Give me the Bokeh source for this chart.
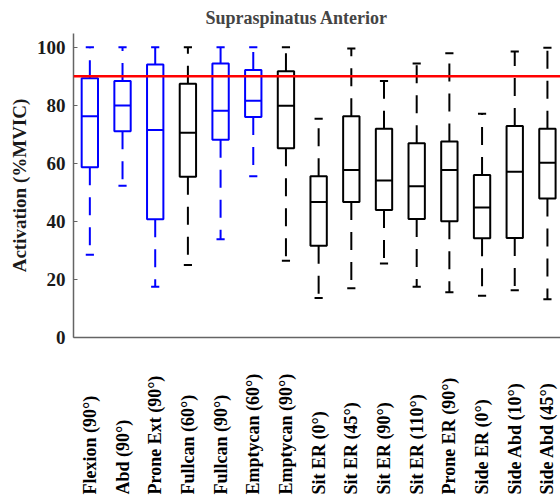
import math
from bokeh.plotting import figure
from bokeh.layouts import column
from bokeh.models import Span, FixedTicker
from bokeh.core.properties import value
from bokeh.embed import file_html
from bokeh.resources import INLINE

categories = ["Flexion (90°)", "Abd (90°)", "Prone Ext (90°)", "Fullcan (60°)",
              "Fullcan (90°)", "Emptycan (60°)", "Emptycan (90°)", "Sit ER (0°)",
              "Sit ER (45°)", "Sit ER (90°)", "Sit ER (110°)", "Prone ER (90°)",
              "Side ER (0°)", "Side Abd (10°)", "Side Abd (45°)"]
lower  = [28.5, 52.3, 17.5, 25.0, 33.8, 55.5, 26.4, 13.6, 17.0, 25.5, 17.5, 15.6, 14.4, 16.3, 13.2]
q1     = [58.6, 71.0, 40.7, 55.4, 68.1, 75.9, 65.2, 31.6, 46.7, 43.9, 40.8, 40.0, 34.2, 34.3, 47.9]
median = [76.2, 79.9, 71.5, 70.5, 78.1, 81.5, 79.8, 46.7, 57.7, 54.1, 52.1, 57.7, 44.8, 57.1, 60.2]
q3     = [89.3, 88.3, 94.0, 87.4, 94.4, 92.1, 91.7, 55.5, 76.2, 71.9, 66.9, 67.5, 56.0, 72.8, 71.9]
upper  = [100.0, 100.0, 100.0, 100.0, 100.0, 100.0, 100.0, 75.3, 99.5, 88.3, 94.4, 97.9, 77.1, 98.5, 99.8]
highlighted = [True, True, True, False, True, True, False, False,
               False, False, False, False, False, False, False]
threshold = 90
y_ticks = [0, 20, 40, 60, 80, 100]

FONT = "Liberation Serif"
n = len(categories)
xs = list(range(1, n + 1))
colors = ["#0000ff" if h else "#000000" for h in highlighted]

W = 560
p = figure(width=W, height=347, x_range=(0.5, 15.4), y_range=(0, 104.7),
           output_backend="svg", toolbar_location=None,
           min_border_left=73, min_border_right=0, min_border_top=33, min_border_bottom=10)
p.title.text = "Supraspinatus Anterior"
p.title.text_font = FONT
p.title.text_font_style = "bold"
p.title.text_font_size = "18px"
p.title.align = "left"
p.title.offset = 132
p.title.standoff = 11

p.xgrid.visible = False
p.ygrid.visible = False
p.outline_line_color = None
p.background_fill_color = "white"

# boxes
p.vbar(x=xs, width=0.5, bottom=q1, top=q3, fill_color=None,
       line_color=colors, line_width=2)
# medians
p.segment(x0=[x - 0.25 for x in xs], x1=[x + 0.25 for x in xs], y0=median, y1=median,
          line_color=colors, line_width=2)
# whiskers (dashed, starting at box edges)
p.segment(x0=xs, x1=xs, y0=q3, y1=upper, line_color=colors, line_width=2, line_dash="18 12")
p.segment(x0=xs, x1=xs, y0=q1, y1=lower, line_color=colors, line_width=2, line_dash="18 12")
# caps
p.segment(x0=[x - 0.125 for x in xs], x1=[x + 0.125 for x in xs], y0=upper, y1=upper,
          line_color=colors, line_width=2)
p.segment(x0=[x - 0.125 for x in xs], x1=[x + 0.125 for x in xs], y0=lower, y1=lower,
          line_color=colors, line_width=2)

p.add_layout(Span(location=threshold, dimension="width", line_color="#ff0000", line_width=2.5))

# y axis
p.yaxis.ticker = FixedTicker(ticks=y_ticks)
p.yaxis.axis_label = "Activation (%MVIC)"
p.yaxis.axis_label_text_font = FONT
p.yaxis.axis_label_text_font_style = "bold"
p.yaxis.axis_label_text_font_size = "19px"
p.yaxis.axis_label_text_color = "#1a1a1a"
p.yaxis.axis_label_standoff = 4
p.yaxis.major_label_text_font = FONT
p.yaxis.major_label_text_font_style = "bold"
p.yaxis.major_label_text_font_size = "19px"
p.yaxis.major_label_text_color = "#1a1a1a"
p.yaxis.major_label_standoff = 8
p.yaxis.major_tick_in = 4
p.yaxis.major_tick_out = 0
p.yaxis.minor_tick_line_color = None
p.yaxis.major_tick_line_color = "#646464"
p.yaxis.axis_line_color = "#646464"
p.yaxis.axis_line_width = 1.5

# x axis: line only; category names are drawn bottom-aligned in the strip below
p.xaxis.ticker = FixedTicker(ticks=[])
p.xaxis.major_tick_line_color = None
p.xaxis.minor_tick_line_color = None
p.xaxis.major_label_text_font_size = "0px"
p.xaxis.axis_line_color = "#646464"
p.xaxis.axis_line_width = 1.5

lab = figure(width=W, height=157, x_range=p.x_range, y_range=(0, 1),
             output_backend="svg", toolbar_location=None,
             x_axis_location=None, y_axis_location=None,
             min_border_left=73, min_border_right=0, min_border_top=0, min_border_bottom=10)
lab.xgrid.visible = False
lab.ygrid.visible = False
lab.outline_line_color = None
lab.text(x=xs, y=[0] * n, text=categories, angle=math.pi / 2,
         text_align="left", text_baseline="middle",
         text_font=value(FONT), text_font_style="bold", text_font_size="18px",
         text_color="#000000")

layout = column(p, lab, spacing=0)
open("out.html", "w").write(file_html(layout, INLINE))
